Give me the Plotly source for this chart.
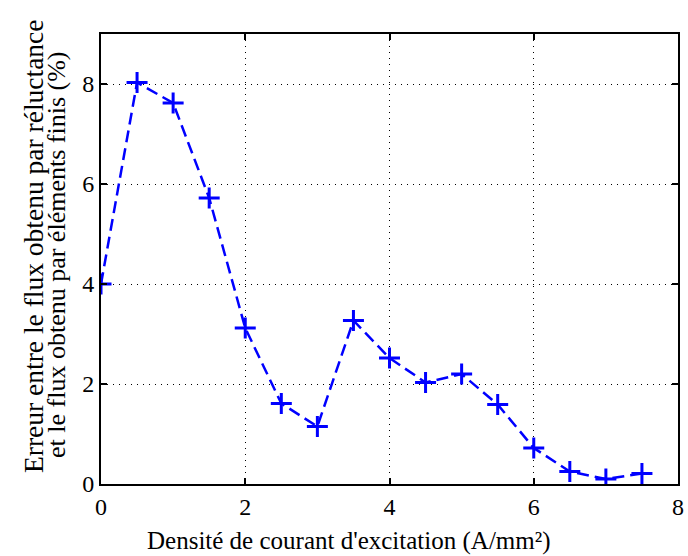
import plotly.graph_objects as go

# Current density (A/mm²) and relative flux error (%)
densite = [0, 0.5, 1, 1.5, 2, 2.5, 3, 3.5, 4, 4.5, 5, 5.5, 6, 6.5, 7, 7.5]
erreur = [4.0, 8.03, 7.62, 5.72, 3.12, 1.61, 1.15, 3.27, 2.52, 2.03, 2.2, 1.59, 0.72, 0.25, 0.1, 0.21]

x_ticks = [0, 2, 4, 6, 8]
y_ticks = [0, 2, 4, 6, 8]

FONT = "Liberation Serif"
BLUE = "#0000ff"

fig = go.Figure(
    go.Scatter(
        x=densite,
        y=erreur,
        mode="lines+markers",
        line=dict(color=BLUE, width=2.5, dash="12px,6px"),
        marker=dict(symbol="cross-thin", size=15, color=BLUE,
                    line=dict(color=BLUE, width=3)),
        showlegend=False,
    )
)

axis_common = dict(
    showline=True, linecolor="black", linewidth=2, mirror="ticks",
    ticks="inside", ticklen=6, tickwidth=2, tickcolor="black",
    showgrid=True, gridcolor="black", gridwidth=1, griddash="1px,5px",
    zeroline=False,
    tickfont=dict(family=FONT, size=24, color="black"),
)

fig.update_xaxes(range=[0, 8], tickvals=x_ticks, **axis_common)
fig.update_yaxes(range=[0, 9], tickvals=y_ticks, **axis_common)

fig.add_annotation(
    text="Densité de courant d'excitation (A/mm²)",
    xref="paper", yref="paper", x=0.43, y=0, yshift=-57,
    xanchor="center", yanchor="middle",
    showarrow=False, font=dict(family=FONT, size=25, color="black"),
)
fig.add_annotation(
    text="Erreur entre le flux obtenu par réluctance",
    xref="paper", yref="paper", x=0, y=0.5, xshift=-68, yshift=13,
    xanchor="center", yanchor="middle",
    textangle=-90, showarrow=False, font=dict(family=FONT, size=27.5, color="black"),
)
fig.add_annotation(
    text="et le flux obtenu par éléments finis (%)",
    xref="paper", yref="paper", x=0, y=0.5, xshift=-45, yshift=4,
    xanchor="center", yanchor="middle",
    textangle=-90, showarrow=False, font=dict(family=FONT, size=26, color="black"),
)

fig.update_layout(
    width=688, height=556,
    margin=dict(l=101, r=4, t=34, b=72),
    paper_bgcolor="white", plot_bgcolor="white",
)

fig.write_html("out.html")
